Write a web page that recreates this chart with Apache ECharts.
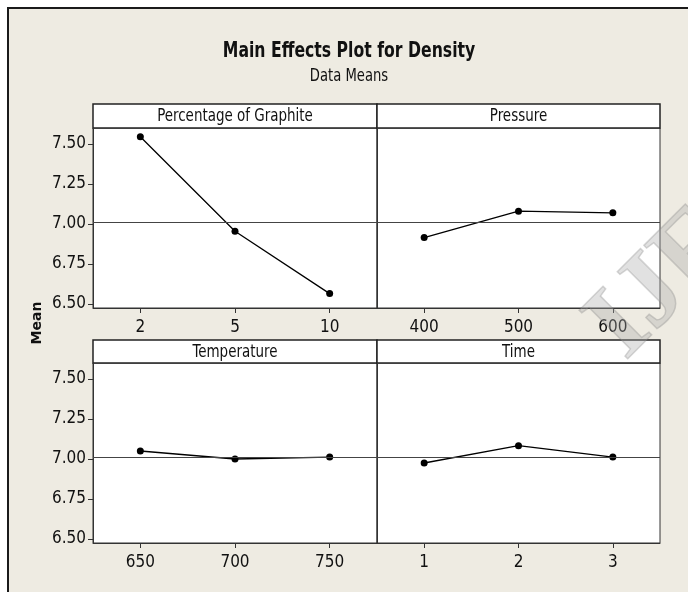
<!DOCTYPE html>
<html>
<head>
<meta charset="utf-8">
<script src="https://cdn.jsdelivr.net/npm/echarts@6/dist/echarts.min.js"></script>
<style>
html,body{margin:0;padding:0;background:#ffffff;}
#chart{width:688px;height:592px;}
</style>
</head>
<body>
<div id="chart"></div>
<script>
// ---- data ----
var chartTitle = 'Main Effects Plot for Density';
var chartSubtitle = 'Data Means';
var yAxisName = 'Mean';
var panelTitles = ['Percentage of Graphite', 'Pressure', 'Temperature', 'Time'];
var graphiteLevels = ['2', '5', '10'];
var graphiteMeans = [7.545, 6.955, 6.565];
var pressureLevels = ['400', '500', '600'];
var pressureMeans = [6.915, 7.080, 7.070];
var temperatureLevels = ['650', '700', '750'];
var temperatureMeans = [7.050, 7.000, 7.012];
var timeLevels = ['1', '2', '3'];
var timeMeans = [6.975, 7.083, 7.012];
var grandMean = 7.01;
var yTicks = [6.50, 6.75, 7.00, 7.25, 7.50];
var yMin = 6.475, yMax = 7.60;

var levels = [graphiteLevels, pressureLevels, temperatureLevels, timeLevels];
var means = [graphiteMeans, pressureMeans, temperatureMeans, timeMeans];

var FONT = "'DejaVu Sans Condensed', 'DejaVu Sans', sans-serif";
var chart = echarts.init(document.getElementById('chart'), null, {renderer: 'canvas'});

var gridPos = [
  {left: 93, top: 128, width: 284, height: 180},
  {left: 377, top: 128, width: 283, height: 180},
  {left: 93, top: 363, width: 284, height: 180},
  {left: 377, top: 363, width: 283, height: 180}
];
var stripTop = [104, 104, 340, 340];

var grids = [], xAxes = [], yAxes = [], series = [], graphics = [];

// background frame
graphics.push({
  type: 'rect', z: -10, silent: true,
  shape: {x: 8, y: 8, width: 720, height: 640},
  style: {fill: '#eeebe2', stroke: '#1a1a1a', lineWidth: 2}
});

// title + subtitle (horizontally condensed like the original)
graphics.push({
  type: 'text', silent: true, x: 349, y: 52, scaleX: 0.83,
  style: {text: chartTitle, fill: '#111111', font: 'bold 21px ' + FONT, align: 'center', verticalAlign: 'middle'}
});
graphics.push({
  type: 'text', silent: true, x: 349, y: 77, scaleX: 0.86,
  style: {text: chartSubtitle, fill: '#111111', font: '17px ' + FONT, align: 'center', verticalAlign: 'middle'}
});

for (var i = 0; i < 4; i++) {
  var g = gridPos[i];
  grids.push({left: g.left, top: g.top, width: g.width, height: g.height,
    show: true, backgroundColor: '#ffffff', borderColor: '#333333', borderWidth: 1, containLabel: false});
  xAxes.push({
    type: 'category', gridIndex: i, data: levels[i], boundaryGap: true,
    axisLine: {show: true, lineStyle: {color: '#333333', width: 1}},
    axisTick: {show: true, alignWithLabel: true, length: 5, lineStyle: {color: '#333333'}},
    axisLabel: {show: true, margin: 11, color: '#111111', fontSize: 17, fontFamily: FONT},
    splitLine: {show: false}
  });
  var showY = (i % 2 === 0);
  yAxes.push({
    type: 'value', gridIndex: i, min: yMin, max: yMax,
    axisLine: {show: true, lineStyle: {color: '#333333', width: 1}},
    axisTick: {show: showY, length: 5, customValues: yTicks, lineStyle: {color: '#333333'}},
    axisLabel: {show: showY, margin: 7, customValues: yTicks, color: '#111111', fontSize: 17, fontFamily: FONT,
      formatter: function (v) { return Number(v).toFixed(2); }},
    splitLine: {show: false}
  });
  series.push({
    type: 'line', xAxisIndex: i, yAxisIndex: i, data: means[i],
    symbol: 'circle', symbolSize: 7, showSymbol: true,
    lineStyle: {color: '#000000', width: 1.3},
    itemStyle: {color: '#000000'},
    animation: false,
    markLine: {
      silent: true, symbol: 'none', animation: false,
      label: {show: false},
      lineStyle: {color: '#444444', width: 1, type: 'solid'},
      data: [{yAxis: grandMean}]
    }
  });
  // strip header
  graphics.push({
    type: 'rect', silent: true,
    shape: {x: g.left, y: stripTop[i], width: g.width, height: g.top - stripTop[i]},
    style: {fill: '#ffffff', stroke: '#222222', lineWidth: 1.5}
  });
  graphics.push({
    type: 'text', silent: true, scaleX: 0.88,
    x: g.left + g.width / 2, y: (stripTop[i] + g.top) / 2 + 1,
    style: {text: panelTitles[i], fill: '#111111', font: '17px ' + FONT, align: 'center', verticalAlign: 'middle'}
  });
}

// axis title "Mean"
graphics.push({
  type: 'text', silent: true, x: 37, y: 323, rotation: Math.PI / 2,
  style: {text: yAxisName, fill: '#111111', font: 'bold 14px "DejaVu Sans", sans-serif', align: 'center', verticalAlign: 'middle'}
});

// watermark
graphics.push({
  type: 'text', silent: true, z: 100, x: 606, y: 342, rotation: Math.PI / 4,
  style: {text: 'IJERT', fill: 'rgba(170,170,170,0.35)', stroke: 'rgba(120,120,120,0.3)', lineWidth: 1.5,
    font: 'bold 105px "Liberation Serif", serif', align: 'left', verticalAlign: 'middle'}
});

var option = {
  backgroundColor: 'transparent',
  animation: false,
  grid: grids,
  xAxis: xAxes,
  yAxis: yAxes,
  series: series,
  graphic: graphics
};
chart.setOption(option);
</script>
</body>
</html>
